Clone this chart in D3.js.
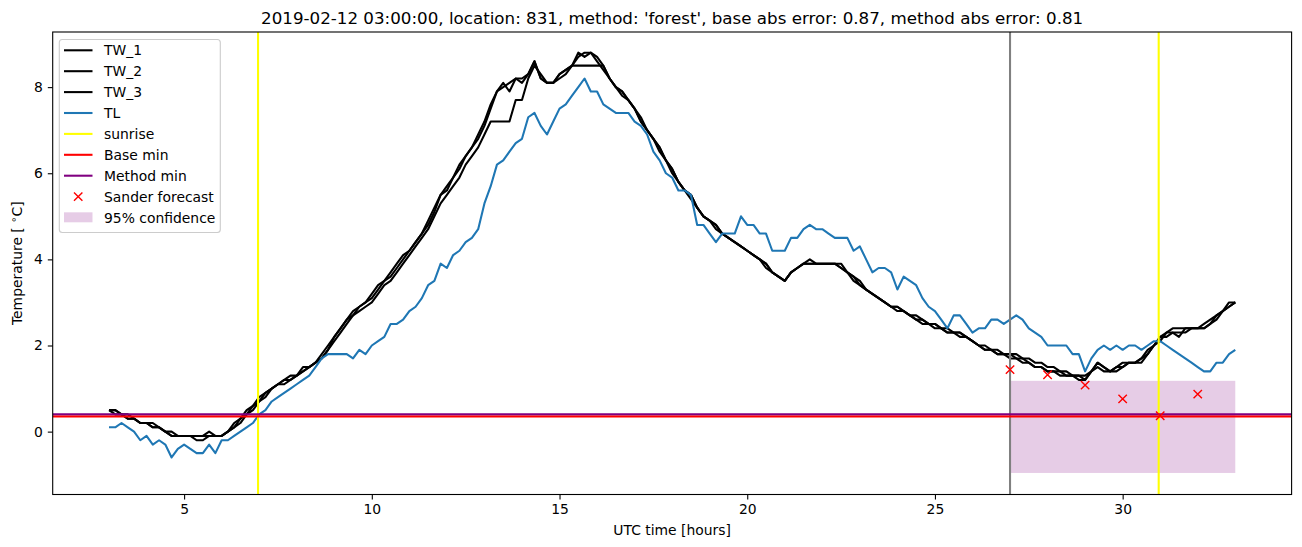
<!DOCTYPE html>
<html><head><meta charset="utf-8">
<script src="https://cdn.jsdelivr.net/npm/d3@7"></script>
<style>
html,body{margin:0;padding:0;background:#fff;}
svg{display:block;font-family:"DejaVu Sans",sans-serif;}
</style></head>
<body><svg id="c" width="1302" height="547"></svg>
<script>
// ---- data (10-minute steps from 03:00 to 33:00 UTC) ----
const startHour = 3, stepHours = 1/6;
const TW_1 = [0.5,0.5,0.4,0.4,0.3,0.2, 0.2,0.1,0.1,0.0,-0.1,-0.1, -0.1,-0.1,-0.1,-0.1,0.0,-0.1, -0.1,0.0,0.1,0.3,0.4,0.6,
 0.7,0.9,1.0,1.1,1.2,1.2, 1.3,1.5,1.5,1.6,1.7,1.9, 2.2,2.4,2.6,2.8,2.9,3.0, 3.1,3.3,3.5,3.6,3.8,4.0,
 4.2,4.4,4.6,4.8,5.1,5.5, 5.7,5.9,6.1,6.4,6.6,6.8, 7.1,7.5,7.9,8.1,7.9,8.2, 8.1,8.3,8.6,8.2,8.1,8.1,
 8.3,8.4,8.5,8.8,8.7,8.8, 8.7,8.5,8.2,8.0,7.9,7.7, 7.5,7.3,7.0,6.8,6.6,6.3, 6.1,5.8,5.6,5.5,5.2,5.0,
 4.9,4.8,4.6,4.5,4.4,4.3, 4.2,4.1,4.0,3.9,3.7,3.6, 3.5,3.7,3.8,3.9,3.9,3.9, 3.9,3.9,3.9,3.9,3.7,3.6,
 3.5,3.3,3.2,3.1,3.0,2.9, 2.9,2.8,2.7,2.6,2.6,2.5, 2.5,2.4,2.3,2.3,2.3,2.2, 2.1,2.0,1.9,1.9,1.8,1.8,
 1.8,1.7,1.7,1.6,1.5,1.5, 1.4,1.4,1.4,1.3,1.3,1.3, 1.2,1.4,1.6,1.5,1.4,1.4, 1.5,1.6,1.6,1.6,1.8,2.0,
 2.1,2.3,2.3,2.2,2.4,2.4, 2.4,2.4,2.5,2.6,2.8,2.9, 3.0];
const TW_2 = [0.5,0.4,0.4,0.3,0.3,0.2, 0.2,0.2,0.1,0.0,0.0,-0.1, -0.1,-0.1,-0.2,-0.2,-0.1,-0.1, -0.1,0.0,0.2,0.3,0.5,0.6,
 0.8,0.9,1.0,1.1,1.2,1.3, 1.3,1.4,1.5,1.6,1.8,2.0, 2.2,2.4,2.6,2.7,2.9,3.0, 3.2,3.4,3.5,3.7,3.9,4.1,
 4.2,4.4,4.6,4.9,5.2,5.5, 5.6,5.9,6.2,6.4,6.6,6.9, 7.2,7.6,7.9,8.0,8.1,8.2, 8.2,8.3,8.6,8.2,8.1,8.1,
 8.2,8.3,8.5,8.7,8.8,8.8, 8.6,8.4,8.2,8.0,7.8,7.7, 7.5,7.2,7.0,6.8,6.5,6.3, 6.0,5.8,5.6,5.4,5.2,5.0,
 4.9,4.7,4.6,4.5,4.4,4.3, 4.2,4.1,4.0,3.8,3.7,3.6, 3.5,3.7,3.8,3.9,4.0,3.9, 3.9,3.9,3.9,3.8,3.7,3.5,
 3.4,3.3,3.2,3.1,3.0,2.9, 2.8,2.8,2.7,2.6,2.5,2.5, 2.4,2.4,2.3,2.3,2.2,2.2, 2.1,2.0,1.9,1.9,1.8,1.8,
 1.7,1.7,1.6,1.6,1.5,1.5, 1.4,1.4,1.3,1.3,1.3,1.2, 1.2,1.4,1.6,1.5,1.4,1.5, 1.5,1.6,1.6,1.7,1.8,2.0,
 2.2,2.2,2.3,2.3,2.3,2.4, 2.4,2.4,2.5,2.7,2.8,2.9, 3.0];
const TW_3 = [0.5,0.5,0.4,0.3,0.3,0.2, 0.2,0.1,0.1,0.0,-0.1,-0.1, -0.1,-0.1,-0.1,-0.1,-0.1,-0.1, -0.1,0.0,0.1,0.2,0.4,0.5,
 0.7,0.8,1.0,1.1,1.1,1.2, 1.3,1.4,1.5,1.6,1.7,1.9, 2.1,2.3,2.5,2.7,2.8,2.9, 3.0,3.2,3.4,3.5,3.7,3.9,
 4.1,4.3,4.5,4.7,5.0,5.3, 5.5,5.7,5.9,6.2,6.4,6.6, 6.9,7.2,7.2,7.2,7.2,7.7, 7.7,8.2,8.5,8.3,8.1,8.1,
 8.3,8.4,8.5,8.5,8.5,8.5, 8.5,8.5,8.2,8.0,7.9,7.7, 7.5,7.2,7.0,6.8,6.6,6.3, 6.1,5.8,5.6,5.5,5.2,5.0,
 4.9,4.8,4.6,4.5,4.4,4.3, 4.2,4.1,4.0,3.9,3.7,3.6, 3.5,3.7,3.8,3.9,3.9,3.9, 3.9,3.9,3.9,3.8,3.7,3.6,
 3.4,3.3,3.2,3.1,3.0,2.9, 2.9,2.8,2.7,2.7,2.6,2.5, 2.5,2.4,2.4,2.3,2.3,2.2, 2.1,2.0,2.0,1.9,1.9,1.8,
 1.8,1.8,1.7,1.7,1.6,1.6, 1.5,1.5,1.4,1.4,1.3,1.3, 1.3,1.4,1.5,1.4,1.4,1.5, 1.6,1.6,1.6,1.7,1.9,2.0,
 2.2,2.3,2.4,2.4,2.4,2.4, 2.4,2.5,2.6,2.7,2.8,3.0, 3.0];
const TL = [0.1,0.1,0.2,0.1,0.0,-0.2, -0.1,-0.3,-0.2,-0.3,-0.6,-0.4, -0.3,-0.4,-0.5,-0.5,-0.3,-0.5, -0.2,-0.2,-0.1,0.0,0.1,0.2,
 0.4,0.5,0.7,0.8,0.9,1.0, 1.1,1.2,1.3,1.5,1.7,1.8, 1.8,1.8,1.8,1.7,1.9,1.8, 2.0,2.1,2.2,2.5,2.5,2.6,
 2.8,2.9,3.1,3.4,3.5,3.9, 3.8,4.1,4.2,4.4,4.5,4.7, 5.3,5.7,6.2,6.3,6.5,6.7, 6.8,7.3,7.4,7.1,6.9,7.2,
 7.5,7.6,7.8,8.0,8.2,7.9, 7.9,7.6,7.5,7.4,7.4,7.4, 7.2,7.1,6.9,6.5,6.3,6.0, 5.9,5.6,5.6,5.5,4.8,4.8,
 4.6,4.4,4.6,4.6,4.6,5.0, 4.8,4.8,4.6,4.6,4.2,4.2, 4.2,4.5,4.5,4.7,4.8,4.7, 4.7,4.6,4.5,4.5,4.5,4.2,
 4.3,4.0,3.7,3.8,3.8,3.7, 3.3,3.6,3.5,3.4,3.1,2.9, 2.8,2.6,2.4,2.7,2.7,2.5, 2.3,2.4,2.4,2.6,2.6,2.5,
 2.6,2.7,2.6,2.4,2.3,2.2, 2.0,2.0,2.0,2.0,1.8,1.8, 1.4,1.7,1.9,2.0,1.9,2.0, 1.9,2.0,2.0,1.9,2.0,2.1,
 2.1,2.0,1.9,1.8,1.7,1.6, 1.5,1.4,1.4,1.6,1.6,1.8, 1.9];
const sunriseHours = [6.97, 30.96];
const forecastTime = 27;
const baseMin = 0.35;
const methodMin = 0.40;
const sanderHours = [27, 28, 29, 30, 31, 32];
const sanderValues = [1.44, 1.32, 1.08, 0.76, 0.37, 0.87];
const confHours = [27, 33];
const confLow = -0.96, confHigh = 1.18;
const xTicks = [5, 10, 15, 20, 25, 30];
const yTicks = [0, 2, 4, 6, 8];
const titleText = "2019-02-12 03:00:00, location: 831, method: 'forest', base abs error: 0.87, method abs error: 0.81";

// ---- layout ----
const svg = d3.select("#c");
const L = 52.7, R = 1291.6, T = 32, B = 494.5;
const hours = TW_1.map((_, i) => startHour + i * stepHours);
const x = d3.scaleLinear().domain([1.5, 34.5]).range([L, R]);
const y = d3.scaleLinear().domain([-1.46, 9.28]).range([B, T]);
const FS = 13.9;

svg.append("defs").append("clipPath").attr("id", "clip")
  .append("rect").attr("x", L).attr("y", T).attr("width", R - L).attr("height", B - T);
const g = svg.append("g").attr("clip-path", "url(#clip)");

// confidence band
g.append("rect")
  .attr("x", x(confHours[0])).attr("width", x(confHours[1]) - x(confHours[0]))
  .attr("y", y(confHigh)).attr("height", y(confLow) - y(confHigh))
  .attr("fill", "purple").attr("fill-opacity", 0.2);

const line = d3.line().x(d => x(d[0])).y(d => y(d[1]));
[TW_1, TW_2, TW_3].forEach(s => {
  g.append("path").attr("d", line(s.map((v, i) => [hours[i], v])))
   .attr("fill", "none").attr("stroke", "black").attr("stroke-width", 2.08).attr("stroke-linejoin", "round");
});
g.append("path").attr("d", line(TL.map((v, i) => [hours[i], v])))
  .attr("fill", "none").attr("stroke", "#1f77b4").attr("stroke-width", 2.08).attr("stroke-linejoin", "round");

sunriseHours.forEach(h => {
  g.append("line").attr("x1", x(h)).attr("x2", x(h)).attr("y1", T).attr("y2", B)
   .attr("stroke", "yellow").attr("stroke-width", 2.08);
});
g.append("line").attr("x1", x(forecastTime)).attr("x2", x(forecastTime)).attr("y1", T).attr("y2", B)
  .attr("stroke", "gray").attr("stroke-width", 2.08);

g.append("line").attr("x1", L).attr("x2", R).attr("y1", y(methodMin)).attr("y2", y(methodMin))
  .attr("stroke", "purple").attr("stroke-width", 2.08);
g.append("line").attr("x1", L).attr("x2", R).attr("y1", y(baseMin)).attr("y2", y(baseMin))
  .attr("stroke", "red").attr("stroke-width", 2.08);

const xm = 4.2;
sanderHours.forEach((h, i) => {
  const cx = x(h), cy = y(sanderValues[i]);
  g.append("path").attr("d", `M${cx-xm},${cy-xm}L${cx+xm},${cy+xm}M${cx-xm},${cy+xm}L${cx+xm},${cy-xm}`)
   .attr("stroke", "red").attr("stroke-width", 1.4).attr("fill", "none");
});

// axes frame
svg.append("rect").attr("x", L).attr("y", T).attr("width", R - L).attr("height", B - T)
  .attr("fill", "none").attr("stroke", "black").attr("stroke-width", 1.1);

const xAxis = d3.axisBottom(x).tickValues(xTicks).tickSize(4.9).tickPadding(4.9).tickFormat(d3.format("d"));
const xa = svg.append("g").attr("transform", `translate(0,${B})`).call(xAxis);
const yAxis = d3.axisLeft(y).tickValues(yTicks).tickSize(4.9).tickPadding(4.9).tickFormat(d3.format("d"));
const ya = svg.append("g").attr("transform", `translate(${L},0)`).call(yAxis);
[xa, ya].forEach(a => {
  a.select(".domain").remove();
  a.selectAll(".tick line").attr("stroke", "black").attr("stroke-width", 1.1);
  a.selectAll(".tick text").attr("font-family", "DejaVu Sans").attr("font-size", FS).attr("fill", "black");
});

svg.append("text").attr("x", (L + R) / 2).attr("y", 535).attr("text-anchor", "middle")
  .attr("font-size", FS).text("UTC time [hours]");
const yl = svg.append("text").attr("transform", `translate(22,${(T + B) / 2}) rotate(-90)`)
  .attr("text-anchor", "middle").attr("font-size", FS);
yl.append("tspan").text("Temperature [ ");
yl.append("tspan").attr("dy", -5).attr("font-size", 10).text("∘");
yl.append("tspan").attr("dy", 5).text("C]");
svg.append("text").attr("x", (L + R) / 2).attr("y", 24).attr("text-anchor", "middle")
  .attr("font-size", 16.7).text(titleText);

// legend
const lg = svg.append("g");
lg.append("rect").attr("x", 59.3).attr("y", 39.5).attr("width", 161).attr("height", 193)
  .attr("rx", 3).attr("fill", "white").attr("fill-opacity", 0.8).attr("stroke", "#cccccc").attr("stroke-width", 1.1);
const items = [
  {label: "TW_1", type: "line", color: "black"},
  {label: "TW_2", type: "line", color: "black"},
  {label: "TW_3", type: "line", color: "black"},
  {label: "TL", type: "line", color: "#1f77b4"},
  {label: "sunrise", type: "line", color: "yellow"},
  {label: "Base min", type: "line", color: "red"},
  {label: "Method min", type: "line", color: "purple"},
  {label: "Sander forecast", type: "x", color: "red"},
  {label: "95% confidence", type: "patch", color: "purple"}
];
items.forEach((it, i) => {
  const cy = 50.3 + i * 20.9;
  if (it.type === "line") {
    lg.append("line").attr("x1", 64).attr("x2", 92.5).attr("y1", cy).attr("y2", cy)
      .attr("stroke", it.color).attr("stroke-width", 2.08);
  } else if (it.type === "x") {
    const cx = 78.2;
    lg.append("path").attr("d", `M${cx-xm},${cy-xm}L${cx+xm},${cy+xm}M${cx-xm},${cy+xm}L${cx+xm},${cy-xm}`)
      .attr("stroke", it.color).attr("stroke-width", 1.4);
  } else {
    lg.append("rect").attr("x", 64).attr("y", cy - 5.2).attr("width", 28.5).attr("height", 10)
      .attr("fill", it.color).attr("fill-opacity", 0.2);
  }
  lg.append("text").attr("x", 104).attr("y", cy).attr("dy", "0.36em").attr("font-size", FS).text(it.label);
});
</script></body></html>
